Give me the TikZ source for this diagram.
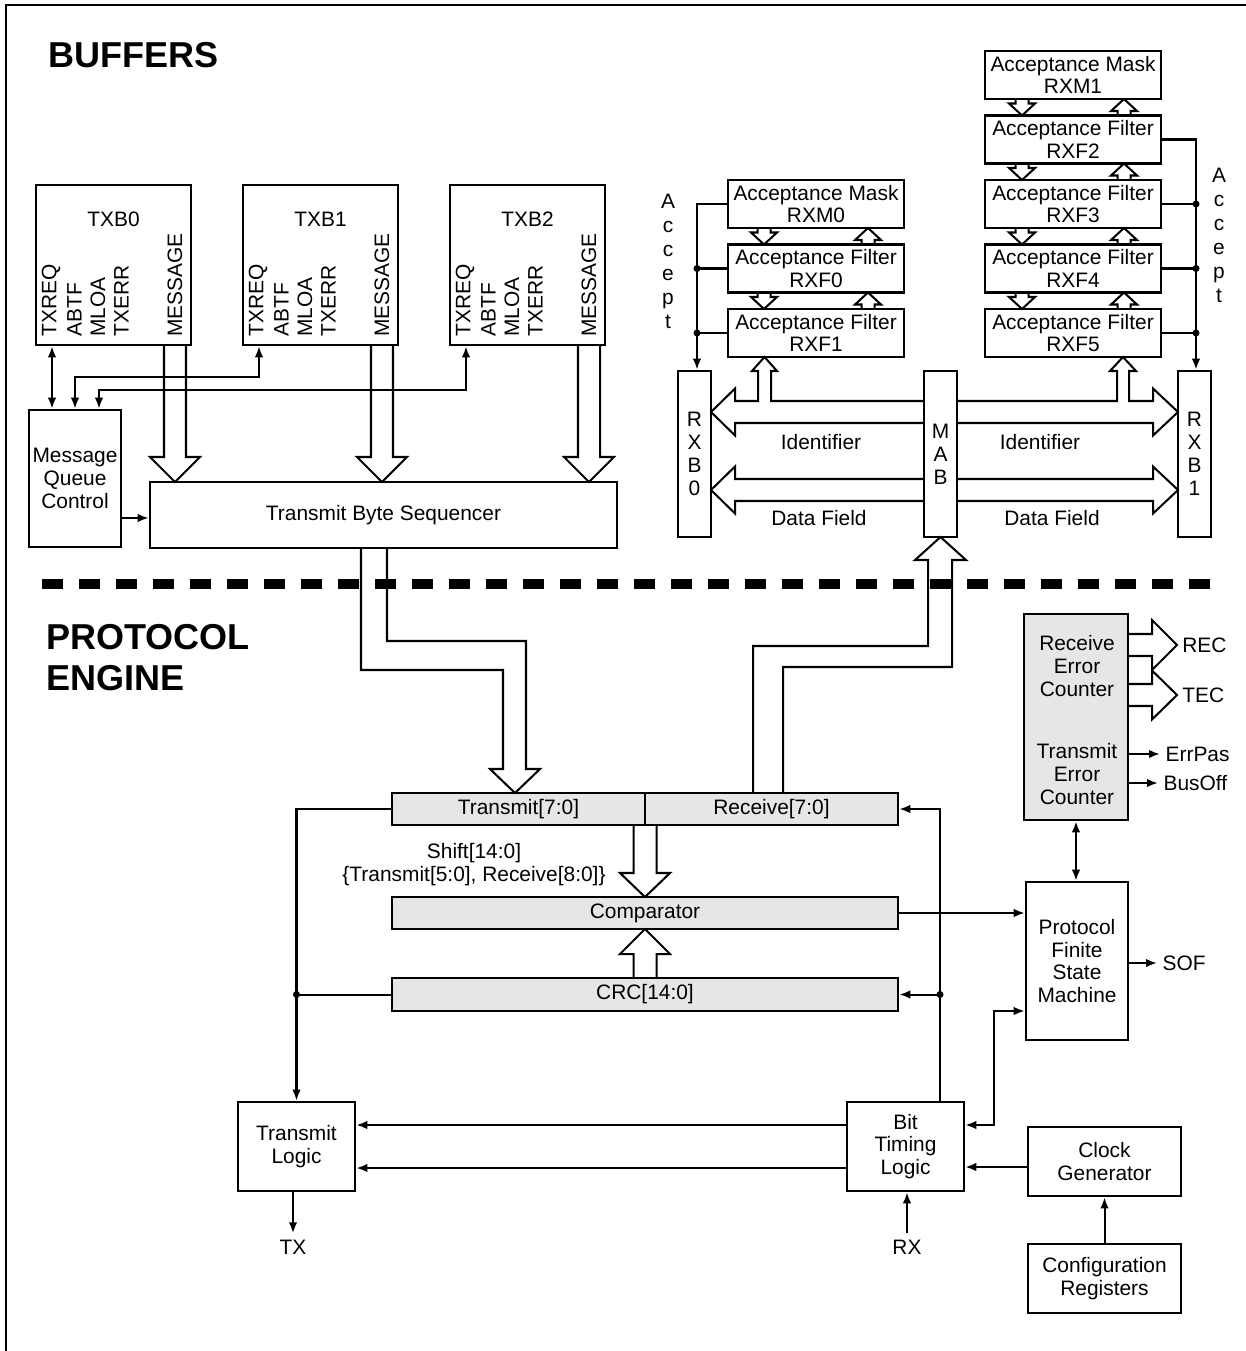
\documentclass[tikz,border=0pt]{standalone}
\usepackage{fontspec}
\setmainfont{Liberation Sans}
\usetikzlibrary{arrows.meta,calc}
\definecolor{RegClr}{RGB}{230,230,230}

% x, shaft half, head half, from y, head base y, tip y
\newcommand{\hollowV}[6]{%
  \draw[fat] ({#1-#2},#4) -- ({#1-#2},#5) -- ({#1-#3},#5) -- (#1,#6)
    -- ({#1+#3},#5) -- ({#1+#2},#5) -- ({#1+#2},#4);}
% y, shaft half, head half, from x, head base x, tip x
\newcommand{\hollowH}[6]{%
  \draw[fat] (#4,{#1-#2}) -- (#5,{#1-#2}) -- (#5,{#1-#3}) -- (#6,#1)
    -- (#5,{#1+#3}) -- (#5,{#1+#2}) -- (#4,{#1+#2});}

\begin{document}
\begin{tikzpicture}[x=0.02cm,y=-0.02cm,font=\fontsize{11.9}{13}\selectfont,
  blk/.style={draw,line width=1.5pt,inner sep=0pt,align=center},
  reg/.style={blk,fill=RegClr},
  lbl/.style={inner sep=0pt,align=center},
  port/.style={inner sep=0pt,inner xsep=3pt},
  wire/.style={line width=1.15pt},
  sig/.style={wire,-{Latex[length=2.2mm,width=1.7mm]}},
  bisig/.style={wire,{Latex[length=2.2mm,width=1.7mm]}-{Latex[length=2.2mm,width=1.7mm]}},
  fat/.style={line width=1.15pt,line join=miter},
  dot/.style={circle,fill,inner sep=0pt,minimum size=4pt},
  head/.style={font=\fontsize{20.5}{23.2}\selectfont\bfseries,inner sep=0pt,align=left}]

\useasboundingbox (0,0) rectangle (1246,1351);
\draw[line width=1.5pt] (1246,5) -- (6,5) -- (6,1351);

% headings
\node[head,anchor=north west] (hbuf) at (48,42) {BUFFERS};
\node[head,anchor=north west] (hpe) at (46,624) {PROTOCOL\\ENGINE};
\draw[line width=6.2pt,dash pattern=on 0.42cm off 0.32cm] (42,584) -- (1211,584);

% transmit buffers
\foreach \k in {0,1,2}{
  \node[blk,minimum width=3.1cm,minimum height=3.2cm] (txb\k) at (113.5+207*\k,265) {};
  \node[lbl] (txbl\k) at (113.5+207*\k,219) {TXB\k};
  \foreach \f/\c in {TXREQ/51,ABTF/74.5,MLOA/98,TXERR/121.5,MESSAGE/175}
    \node[lbl,rotate=90,anchor=west] (\f\k) at (\c+207*\k,337) {\f};
  \hollowV{175+207*\k}{11}{25}{345}{457}{482}
}
\node[blk,minimum width=1.84cm,minimum height=2.74cm] (mqc) at (75,478.5) {Message\\Queue\\Control};
\node[blk,minimum width=9.34cm,minimum height=1.32cm] (tbs) at (383.5,515) {Transmit Byte Sequencer};

\draw[bisig] (txb0.south -| 52,0) -- (mqc.north -| 52,0);
\draw[bisig] (txb1.south -| 259,0) |- (75,377) -- (mqc.north -| 75,0);
\draw[bisig] (txb2.south -| 466,0) |- (99,390) -- (mqc.north -| 99,0);
\coordinate (yq) at (0,518);
\draw[sig] (mqc.east |- yq) -- (tbs.west |- yq);

% acceptance masks and filters
\foreach \n/\a/\r/\x/\y in {rxm1/Mask/RXM1/1073/75, rxf2/Filter/RXF2/1073/139.5,
    rxf3/Filter/RXF3/1073/204, rxf4/Filter/RXF4/1073/268.5, rxf5/Filter/RXF5/1073/333,
    rxm0/Mask/RXM0/816/204, rxf0/Filter/RXF0/816/268.5, rxf1/Filter/RXF1/816/333}
  \node[blk,minimum width=3.52cm,minimum height=0.96cm] (\n) at (\x,\y) {Acceptance \a\\\r};
\foreach \y in {99,163.5,228,292.5}{
  \hollowV{1022}{6.5}{13}{\y}{\y+4.5}{\y+16.5}
  \hollowV{1124}{6.5}{13}{\y+16.5}{\y+12}{\y}
}
\foreach \y in {228,292.5}{
  \hollowV{764}{6.5}{13}{\y}{\y+4.5}{\y+16.5}
  \hollowV{868}{6.5}{13}{\y+16.5}{\y+12}{\y}
}

\node[blk,minimum width=0.66cm,minimum height=3.32cm] (rxb0) at (694.5,454) {R\\X\\B\\0};
\node[blk,minimum width=0.66cm,minimum height=3.32cm] (mab) at (940.5,454) {M\\A\\B};
\node[blk,minimum width=0.66cm,minimum height=3.32cm] (rxb1) at (1194.5,454) {R\\X\\B\\1};

% identifier and data buses
\draw[fat] (924,401) -- (771,401) -- (771,371) -- (777,371) -- (764.5,357) -- (752,371)
  -- (758,371) -- (758,401) -- (735,401) -- (735,388.5) -- (711,412) -- (735,435.5)
  -- (735,423) -- (924,423);
\draw[fat] (924,479) -- (735,479) -- (735,466.5) -- (711,490) -- (735,513.5) -- (735,501) -- (924,501);
\draw[fat] (957,401) -- (1117,401) -- (1117,371) -- (1110,371) -- (1123,357) -- (1136,371)
  -- (1129,371) -- (1129,401) -- (1153,401) -- (1153,388.5) -- (1178,412) -- (1153,435.5)
  -- (1153,423) -- (957,423);
\draw[fat] (957,479) -- (1153,479) -- (1153,466.5) -- (1178,490) -- (1153,513.5) -- (1153,501) -- (957,501);
\node[lbl] (idl) at (821,442) {Identifier};
\node[lbl] (idr) at (1040,442) {Identifier};
\node[lbl] (dfl) at (819,518) {Data Field};
\node[lbl] (dfr) at (1052,518) {Data Field};

% accept lines
\coordinate (accl) at (697,0);
\draw[sig] (rxm0.west) -| (rxb0.north -| accl);
\foreach \n in {rxf0,rxf1} \draw[wire] (\n.west) -- (\n.west -| accl) node[dot] (d\n) {};
\coordinate (accr) at (1196,0);
\draw[sig] (rxf2.east) -| (rxb1.north -| accr);
\foreach \n in {rxf3,rxf4,rxf5} \draw[wire] (\n.east) -- (\n.east -| accr) node[dot] (d\n) {};
\node[lbl,anchor=north,font=\fontsize{11.9}{13.6}\selectfont] (acc0) at (668,194) {A\\c\\c\\e\\p\\t};
\node[lbl,anchor=north,font=\fontsize{11.9}{13.6}\selectfont] (acc1) at (1219,168) {A\\c\\c\\e\\p\\t};

% protocol engine
\node[reg,minimum width=5.06cm,minimum height=0.64cm] (xmit) at (518.5,809) {Transmit[7:0]};
\node[reg,minimum width=5.06cm,minimum height=0.64cm] (recv) at (771.5,809) {Receive[7:0]};
\node[reg,minimum width=10.12cm,minimum height=0.64cm] (cmp) at (645,913) {Comparator};
\node[reg,minimum width=10.12cm,minimum height=0.66cm] (crc) at (645,994.5) {CRC[14:0]};
\node[lbl] (shift) at (474,865) {Shift[14:0]\\\{Transmit[5:0], Receive[8:0]\}};

\draw[fat] (361,548) -- (361,670) -- (503,670) -- (503,769) -- (490,769) -- (515,793)
  -- (540,769) -- (526,769) -- (526,641) -- (387,641) -- (387,548);
\draw[fat] (753,793) -- (753,646) -- (928,646) -- (928,560) -- (915,560) -- (940.5,537)
  -- (966,560) -- (952,560) -- (952,667) -- (783,667) -- (783,793);
\hollowV{645}{11.5}{25}{825}{873}{897}
\hollowV{645}{11.5}{25}{978}{954}{929}

\node[reg,minimum width=2.08cm,minimum height=4.12cm] (errc) at (1076,717) {};
\node[lbl] (errcr) at (1077,666) {Receive\\Error\\Counter};
\node[lbl] (errct) at (1077,774) {Transmit\\Error\\Counter};
\node[blk,minimum width=2.04cm,minimum height=3.16cm] (pfsm) at (1077,961) {Protocol\\Finite\\State\\Machine};

\hollowH{645}{11}{25}{1128}{1152}{1177}
\hollowH{695}{11}{24.5}{1128}{1152}{1177}
\node[lbl,anchor=west] (rec) at (1182,645) {REC};
\node[lbl,anchor=west] (tec) at (1182,695) {TEC};
\node[port,anchor=west] (errpas) at (1160,754) {ErrPas};
\node[port,anchor=west] (busoff) at (1158,783) {BusOff};
\draw[sig] (errc.east |- errpas) -- (errpas.west);
\draw[sig] (errc.east |- busoff) -- (busoff.west);
\draw[bisig] (errc.south) -- (errc.south |- pfsm.north);
\node[port,anchor=west] (sof) at (1157,963) {SOF};
\draw[sig] (pfsm.east |- sof) -- (sof.west);
\draw[sig] (cmp.east) -- (cmp.east -| pfsm.west);

\node[blk,minimum width=2.34cm,minimum height=1.78cm] (tl) at (296.5,1146.5) {Transmit\\Logic};
\node[blk,minimum width=2.34cm,minimum height=1.78cm] (btl) at (905.5,1146.5) {Bit\\Timing\\Logic};
\node[blk,minimum width=3.06cm,minimum height=1.38cm] (clk) at (1104.5,1161.5) {Clock\\Generator};
\node[blk,minimum width=3.06cm,minimum height=1.38cm] (cfg) at (1104.5,1278.5) {Configuration\\Registers};
\node[lbl,inner ysep=3.5pt] (tx) at (293,1247) {TX};
\node[lbl,inner ysep=3.5pt] (rx) at (907,1247) {RX};

\draw[sig] (xmit.west) -| (tl.north);
\draw[wire] (crc.west) -- (crc.west -| tl.north) node[dot] (dcl) {};
\coordinate (rxv) at (940,0);
\draw[sig] (btl.north -| rxv) |- (recv.east);
\draw[sig] (crc.east -| rxv) node[dot] (dcr) {} -- (crc.east);
\coordinate (yt1) at (0,1125);
\coordinate (yt2) at (0,1168);
\draw[sig] (btl.west |- yt1) -- (tl.east |- yt1);
\draw[sig] (btl.west |- yt2) -- (tl.east |- yt2);
\draw[bisig] (btl.east |- yt1) -| (994,1011) -- (pfsm.west |- 0,1011);
\draw[sig] (clk.west |- 0,1167) -- (btl.east |- 0,1167);
\draw[sig] (cfg.north) -- (clk.south);
\draw[sig] (tl.south -| tx) -- (tx.north);
\draw[sig] (rx.north) -- (rx.north |- btl.south);

\end{tikzpicture}
\end{document}
